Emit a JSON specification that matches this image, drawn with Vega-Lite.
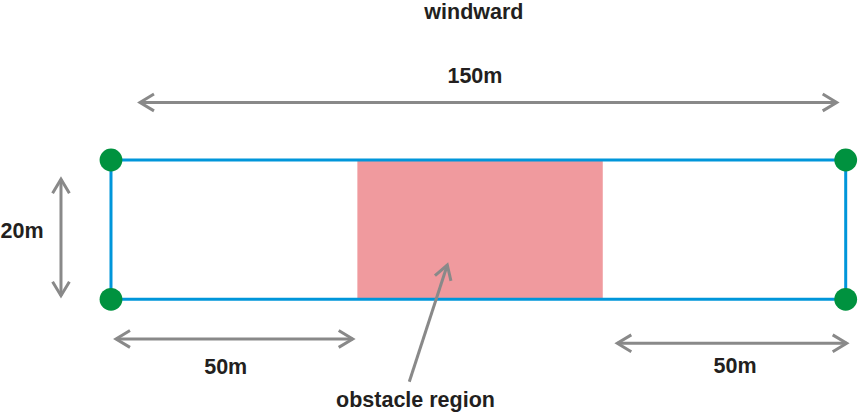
{
  "$schema": "https://vega.github.io/schema/vega-lite/v6.json",
  "width": 858,
  "height": 414,
  "autosize": {"type": "fit", "contains": "padding"},
  "padding": 0,
  "background": "white",
  "config": {"view": {"stroke": null}},
  "datasets": {
    "obstacle": [{"x": 50.3, "x2": 100.4, "y": 0, "y2": 20}],
    "domain": [{"x": 0, "x2": 150, "y": 0, "y2": 20}],
    "corners": [
      {"x": 0, "y": 0}, {"x": 150, "y": 0},
      {"x": 0, "y": 20}, {"x": 150, "y": 20}
    ],
    "shafts": [
      {"name": "length", "x": 5.92, "y": 28.26, "x2": 148.16, "y2": 28.26},
      {"name": "width", "x": -10.21, "y": 17.23, "x2": -10.21, "y2": 0.52},
      {"name": "upwind", "x": 1.02, "y": -5.7, "x2": 49.35, "y2": -5.7},
      {"name": "downwind", "x": 103.37, "y": -6.32, "x2": 150.2, "y2": -6.32},
      {"name": "pointer", "x": 60.9, "y": -11.83, "x2": 68.66, "y2": 4.92}
    ],
    "heads": [
      {"x": 5.92, "y": 28.26, "dir": "left"},
      {"x": 148.16, "y": 28.26, "dir": "right"},
      {"x": -10.21, "y": 17.23, "dir": "up"},
      {"x": -10.21, "y": 0.52, "dir": "down"},
      {"x": 1.02, "y": -5.7, "dir": "left"},
      {"x": 49.35, "y": -5.7, "dir": "right"},
      {"x": 103.37, "y": -6.32, "dir": "left"},
      {"x": 150.2, "y": -6.32, "dir": "right"},
      {"x": 68.66, "y": 4.92, "dir": "ne"}
    ],
    "labels": [
      {"text": "windward", "x": 74.1, "y": 41.15},
      {"text": "150m", "x": 74.3, "y": 31.87},
      {"text": "20m", "x": -18.17, "y": 9.71},
      {"text": "50m", "x": 23.42, "y": -9.91},
      {"text": "50m", "x": 127.4, "y": -9.72},
      {"text": "obstacle region", "x": 62.17, "y": -14.6}
    ]
  },
  "encoding": {
    "x": {"field": "x", "type": "quantitative", "axis": null,
      "scale": {"domain": [-22.66, 152.51], "nice": false, "zero": false}},
    "y": {"field": "y", "type": "quantitative", "axis": null,
      "scale": {"domain": [-16.47, 42.97], "nice": false, "zero": false}}
  },
  "layer": [
    {
      "data": {"name": "obstacle"},
      "mark": {"type": "rect", "color": "#f09a9e"},
      "encoding": {"x2": {"field": "x2"}, "y2": {"field": "y2"}}
    },
    {
      "data": {"name": "domain"},
      "mark": {"type": "rect", "fill": null, "fillOpacity": 0, "stroke": "#0096da", "strokeWidth": 3},
      "encoding": {"x2": {"field": "x2"}, "y2": {"field": "y2"}}
    },
    {
      "data": {"name": "corners"},
      "mark": {"type": "point", "shape": "circle", "filled": true, "color": "#00923f", "opacity": 1, "size": 520}
    },
    {
      "data": {"name": "shafts"},
      "mark": {"type": "rule", "color": "#898989", "strokeWidth": 3},
      "encoding": {"x2": {"field": "x2"}, "y2": {"field": "y2"}}
    },
    {
      "data": {"name": "heads"},
      "mark": {"type": "point", "filled": false, "color": "#898989", "opacity": 1, "strokeWidth": 3, "size": 196},
      "encoding": {
        "shape": {
          "field": "dir", "type": "nominal", "legend": null,
          "scale": {
            "domain": ["left", "right", "up", "down", "ne"],
            "range": [
              "M2,-1.2L0,0L2,1.2",
              "M-2,-1.2L0,0L-2,1.2",
              "M-1.2,2L0,0L1.2,2",
              "M-1.2,-2L0,0L1.2,-2",
              "M0.52,2.27L0,0L-1.76,1.53"
            ]
          }
        }
      }
    },
    {
      "data": {"name": "labels"},
      "mark": {"type": "text", "font": "Liberation Sans", "fontWeight": "bold", "fontSize": 21.5, "color": "#231f20", "align": "center", "baseline": "middle"},
      "encoding": {"text": {"field": "text"}}
    }
  ]
}
